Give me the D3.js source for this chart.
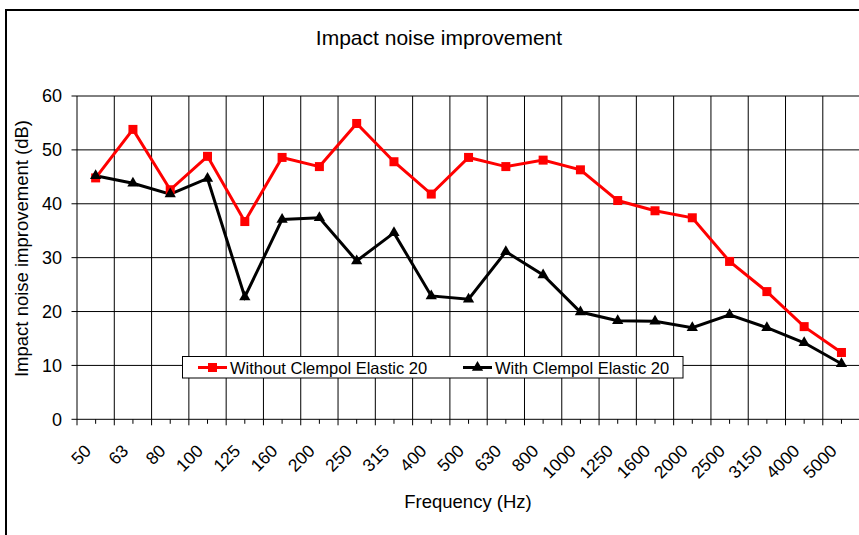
<!DOCTYPE html>
<html>
<head>
<meta charset="utf-8">
<script src="https://cdn.jsdelivr.net/npm/d3@7"></script>
<style>
  body { margin: 0; background: #fff; }
  svg { display: block; font-family: 'Liberation Sans', Arial, sans-serif; }
</style>
</head>
<body>
<script>
/* global d3 */

const freqs = ['50', '63', '80', '100', '125', '160', '200', '250', '315', '400', '500',
  '630', '800', '1000', '1250', '1600', '2000', '2500', '3150', '4000', '5000']

const without = [44.8, 53.8, 42.6, 48.8, 36.7, 48.6, 46.9, 54.9, 47.8, 41.8, 48.6,
  46.9, 48.1, 46.3, 40.6, 38.7, 37.4, 29.3, 23.7, 17.2, 12.4]

const withClempol = [45.2, 43.8, 41.8, 44.7, 22.7, 37.1, 37.4, 29.4, 34.6, 22.9, 22.3,
  31.1, 26.8, 19.9, 18.3, 18.2, 17.0, 19.4, 17.0, 14.2, 10.3]

const yTicks = [0, 10, 20, 30, 40, 50, 60]

const seriesNames = ['Without Clempol Elastic 20', 'With Clempol Elastic 20']

const w = 859
const h = 535

const svg = d3.select('body').append('svg')
  .attr('width', w)
  .attr('height', h)

// outer chart frame (runs off the right and bottom edges)
svg.append('rect')
  .attr('x', 6).attr('y', 10)
  .attr('width', w + 20).attr('height', h + 20)
  .attr('fill', '#fff')
  .attr('stroke', '#000')
  .attr('stroke-width', 2)

const x = d3.scaleBand().domain(freqs).range([77, 860.1])
const y = d3.scaleLinear().domain([0, 60]).range([419.3, 96])
const cx = d => x(d) + x.bandwidth() / 2

// gridlines
const grid = svg.append('g').attr('stroke', '#000').attr('stroke-width', 1)

grid.selectAll('.hg').data(yTicks.slice(1)).enter()
  .append('line')
  .attr('x1', 77).attr('x2', 860)
  .attr('y1', d => y(d)).attr('y2', d => y(d))

const bounds = freqs.map(d => x(d)).concat([x(freqs[freqs.length - 1]) + x.bandwidth()])

grid.selectAll('.vg').data(bounds.slice(1)).enter()
  .append('line')
  .attr('x1', d => d).attr('x2', d => d)
  .attr('y1', y(60)).attr('y2', y(0))

// axes
const axes = svg.append('g').attr('stroke', '#000').attr('stroke-width', 1)

axes.append('line').attr('x1', 77).attr('x2', 77).attr('y1', y(60)).attr('y2', y(0))
axes.append('line').attr('x1', 77).attr('x2', 860).attr('y1', y(0)).attr('y2', y(0))

axes.selectAll('.yt').data(yTicks).enter()
  .append('line')
  .attr('x1', 71.5).attr('x2', 77)
  .attr('y1', d => y(d)).attr('y2', d => y(d))

axes.selectAll('.xt').data(bounds).enter()
  .append('line')
  .attr('x1', d => d).attr('x2', d => d)
  .attr('y1', y(0)).attr('y2', y(0) + 6)

axes.selectAll('.xm').data(freqs).enter()
  .append('line')
  .attr('x1', d => cx(d)).attr('x2', d => cx(d))
  .attr('y1', y(0)).attr('y2', y(0) + 4.5)

// tick labels
svg.selectAll('.yl').data(yTicks).enter()
  .append('text')
  .attr('x', 62)
  .attr('y', d => y(d))
  .attr('dy', '0.36em')
  .attr('text-anchor', 'end')
  .attr('font-size', 18)
  .text(d => d)

svg.selectAll('.xl').data(freqs).enter()
  .append('text')
  .attr('transform', d => `translate(${cx(d) - 3.5},452) rotate(-45)`)
  .attr('text-anchor', 'end')
  .attr('font-size', 17.5)
  .text(d => d)

// titles
svg.append('text')
  .attr('x', 439).attr('y', 45)
  .attr('text-anchor', 'middle')
  .attr('font-size', 21)
  .text('Impact noise improvement')

svg.append('text')
  .attr('x', 468).attr('y', 508)
  .attr('text-anchor', 'middle')
  .attr('font-size', 18.5)
  .text('Frequency (Hz)')

svg.append('text')
  .attr('transform', 'translate(28,248.5) rotate(-90)')
  .attr('text-anchor', 'middle')
  .attr('font-size', 18.5)
  .text('Impact noise improvement (dB)')

// series
const line = d3.line()
  .x((d, i) => cx(freqs[i]))
  .y(d => y(d))

const tri = d3.symbol().type(d3.symbolTriangle).size(55)

svg.append('path')
  .attr('d', line(without))
  .attr('fill', 'none')
  .attr('stroke', '#f00')
  .attr('stroke-width', 3)
  .attr('stroke-linejoin', 'miter')

svg.append('path')
  .attr('d', line(withClempol))
  .attr('fill', 'none')
  .attr('stroke', '#000')
  .attr('stroke-width', 3)

svg.selectAll('.sq').data(without).enter()
  .append('rect')
  .attr('x', (d, i) => cx(freqs[i]) - 4.5)
  .attr('y', d => y(d) - 4.5)
  .attr('width', 9).attr('height', 9)
  .attr('fill', '#f00')

svg.selectAll('.tr').data(withClempol).enter()
  .append('path')
  .attr('d', tri)
  .attr('transform', (d, i) => `translate(${cx(freqs[i])},${y(d)})`)
  .attr('fill', '#000')

// legend
const legend = svg.append('g')

legend.append('rect')
  .attr('x', 182.5).attr('y', 356.5)
  .attr('width', 500.5).attr('height', 21.5)
  .attr('fill', '#fff')
  .attr('stroke', '#000')
  .attr('stroke-width', 1)

const legendItems = [
  { name: seriesNames[0], color: '#f00', x0: 198, marker: 'square' },
  { name: seriesNames[1], color: '#000', x0: 463, marker: 'triangle' }
]

legendItems.forEach(it => {
  legend.append('line')
    .attr('x1', it.x0).attr('x2', it.x0 + 29)
    .attr('y1', 367.5).attr('y2', 367.5)
    .attr('stroke', it.color)
    .attr('stroke-width', 3)

  if (it.marker === 'square') {
    legend.append('rect')
      .attr('x', it.x0 + 14.5 - 4.5).attr('y', 363)
      .attr('width', 9).attr('height', 9)
      .attr('fill', it.color)
  } else {
    legend.append('path')
      .attr('d', tri)
      .attr('transform', `translate(${it.x0 + 14.5},367.5)`)
      .attr('fill', it.color)
  }

  legend.append('text')
    .attr('x', it.x0 + 32).attr('y', 373.5)
    .attr('font-size', 16.5)
    .text(it.name)
})
</script>
</body>
</html>
